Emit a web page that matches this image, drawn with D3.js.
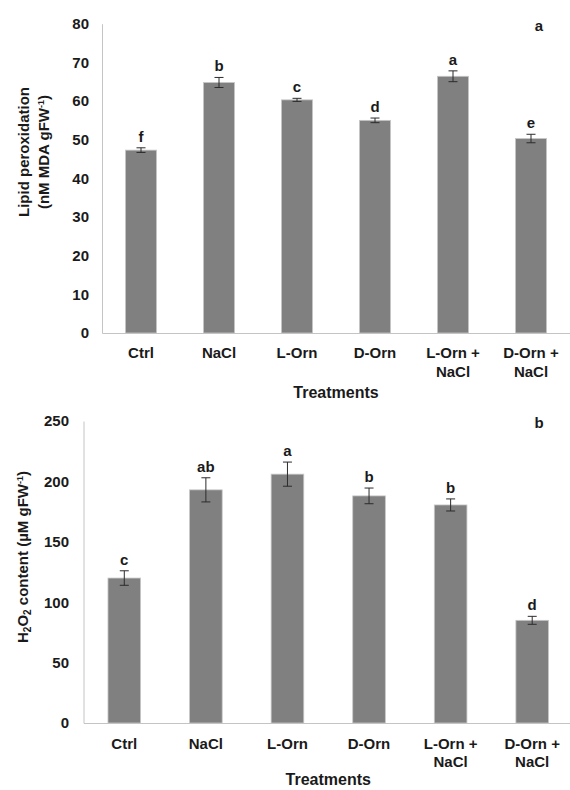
<!DOCTYPE html>
<html lang="en">
<head>
  <meta charset="utf-8">
  <title>Lipid peroxidation and H2O2</title>
  <script src="https://d3js.org/d3.v7.min.js"></script>
  <style>
    body { margin: 0; background: #fff; }
    svg text { font-family: "Liberation Sans", Arial, sans-serif; font-weight: bold; fill: #1a1a1a; }
  </style>
</head>
<body>
<script>
  // treatments, one entry per bar (second line goes under the first)
  var treatments = ["Ctrl", "NaCl", "L-Orn", "D-Orn", "L-Orn +|NaCl", "D-Orn +|NaCl"];

  // panel a: lipid peroxidation (nM MDA gFW-1)
  var lipidValues = [47.3, 64.8, 60.3, 55.0, 66.4, 50.3];
  var lipidErrors = [0.6, 1.3, 0.4, 0.6, 1.4, 1.1];
  var lipidLetters = ["f", "b", "c", "d", "a", "e"];
  var lipidTicks = [0, 10, 20, 30, 40, 50, 60, 70, 80];

  // panel b: H2O2 content (uM gFW-1)
  var h2o2Values = [120, 193, 206, 188, 180.5, 85];
  var h2o2Errors = [6, 10, 10, 6.5, 5, 3.3];
  var h2o2Letters = ["c", "ab", "a", "b", "b", "d"];
  var h2o2Ticks = [0, 50, 100, 150, 200, 250];

  var svg = d3.select("body").append("svg")
    .attr("width", 570)
    .attr("height", 790);

  function drawPanel(opt) {
    var x = d3.scaleBand().domain(treatments).range([opt.left, opt.right]).padding(0);
    var y = d3.scaleLinear().domain([0, d3.max(opt.ticks)]).range([opt.bottom, opt.top]);
    var bw = x.bandwidth() * 0.4;
    var g = svg.append("g");

    // y axis (line only, no tick marks)
    var ya = g.append("g")
      .attr("transform", "translate(" + opt.left + ",0)")
      .call(d3.axisLeft(y).tickValues(opt.ticks).tickSize(0).tickPadding(opt.tickPad));
    ya.select(".domain").attr("stroke", "#c4c4c4");
    ya.selectAll("text").style("font-size", "15px").attr("fill", "#1a1a1a");

    var rows = treatments.map(function(t, i) {
      return { name: t, v: opt.values[i], e: opt.errors[i], l: opt.letters[i] };
    });

    g.selectAll("rect.bar").data(rows).enter().append("rect")
      .attr("class", "bar")
      .attr("x", function(d) { return x(d.name) + (x.bandwidth() - bw) / 2; })
      .attr("y", function(d) { return y(d.v); })
      .attr("width", bw)
      .attr("height", function(d) { return y(0) - y(d.v); })
      .attr("fill", "#808080")
      .attr("stroke", "#c8c8c8")
      .attr("stroke-width", 0.8);

    // error bars
    var eb = g.selectAll("g.err").data(rows).enter().append("g").attr("class", "err")
      .attr("stroke", "#2b2b2b").attr("stroke-width", 1);
    eb.append("line")
      .attr("x1", function(d) { return x(d.name) + x.bandwidth() / 2; })
      .attr("x2", function(d) { return x(d.name) + x.bandwidth() / 2; })
      .attr("y1", function(d) { return y(d.v + d.e); })
      .attr("y2", function(d) { return y(d.v - d.e); });
    [1, -1].forEach(function(s) {
      eb.append("line")
        .attr("x1", function(d) { return x(d.name) + x.bandwidth() / 2 - 4.5; })
        .attr("x2", function(d) { return x(d.name) + x.bandwidth() / 2 + 4.5; })
        .attr("y1", function(d) { return y(d.v + s * d.e); })
        .attr("y2", function(d) { return y(d.v + s * d.e); });
    });

    // significance letters
    g.selectAll("text.sig").data(rows).enter().append("text")
      .attr("class", "sig")
      .attr("x", function(d) { return x(d.name) + x.bandwidth() / 2; })
      .attr("y", function(d) { return y(d.v + d.e) - 6; })
      .attr("text-anchor", "middle")
      .style("font-size", "15px")
      .text(function(d) { return d.l; });

    // x axis, labels split into two lines
    var xa = g.append("g")
      .attr("transform", "translate(0," + opt.bottom + ")")
      .call(d3.axisBottom(x).tickSize(0).tickSizeOuter(0).tickFormat(""));
    xa.select(".domain").attr("stroke", "#c4c4c4");
    xa.selectAll(".tick").append("text")
      .attr("text-anchor", "middle")
      .style("font-size", "15px")
      .each(function(d) {
        var parts = d.split("|");
        var t = d3.select(this);
        parts.forEach(function(p, k) {
          t.append("tspan").attr("x", 0).attr("y", opt.labelY + k * 18.5).text(p);
        });
      });

    g.append("text")
      .attr("x", (opt.left + opt.right) / 2)
      .attr("y", opt.bottom + opt.titleY)
      .attr("text-anchor", "middle")
      .style("font-size", "16px")
      .text("Treatments");

    g.append("text")
      .attr("x", 539)
      .attr("y", opt.top + 7)
      .attr("text-anchor", "middle")
      .style("font-size", "15px")
      .text(opt.panel);
  }

  drawPanel({
    left: 102, right: 570, top: 23.7, bottom: 333, tickPad: 13, labelY: 25, titleY: 65,
    values: lipidValues, errors: lipidErrors, letters: lipidLetters, ticks: lipidTicks, panel: "a"
  });

  drawPanel({
    left: 83.5, right: 573, top: 421, bottom: 723, tickPad: 14.5, labelY: 25.5, titleY: 62,
    values: h2o2Values, errors: h2o2Errors, letters: h2o2Letters, ticks: h2o2Ticks, panel: "b"
  });

  // y titles
  var t1 = svg.append("text")
    .attr("transform", "translate(29,152) rotate(-90)")
    .attr("text-anchor", "middle")
    .style("font-size", "15px");
  t1.append("tspan").attr("x", 0).attr("y", 0).text("Lipid peroxidation");
  t1.append("tspan").attr("x", 0).attr("y", 20).text("(nM MDA gFW");
  t1.append("tspan").attr("dy", -5).style("font-size", "9px").text("-1");
  t1.append("tspan").attr("dy", 5).text(")");

  var t2 = svg.append("text")
    .attr("transform", "translate(28,557) rotate(-90)")
    .attr("text-anchor", "middle")
    .style("font-size", "15px");
  t2.append("tspan").text("H");
  t2.append("tspan").attr("dy", 3).style("font-size", "10px").text("2");
  t2.append("tspan").attr("dy", -3).text("O");
  t2.append("tspan").attr("dy", 3).style("font-size", "10px").text("2");
  t2.append("tspan").attr("dy", -3).text(" content (\u00b5M gFW");
  t2.append("tspan").attr("dy", -5).style("font-size", "9px").text("-1");
  t2.append("tspan").attr("dy", 5).text(")");
</script>
</body>
</html>
